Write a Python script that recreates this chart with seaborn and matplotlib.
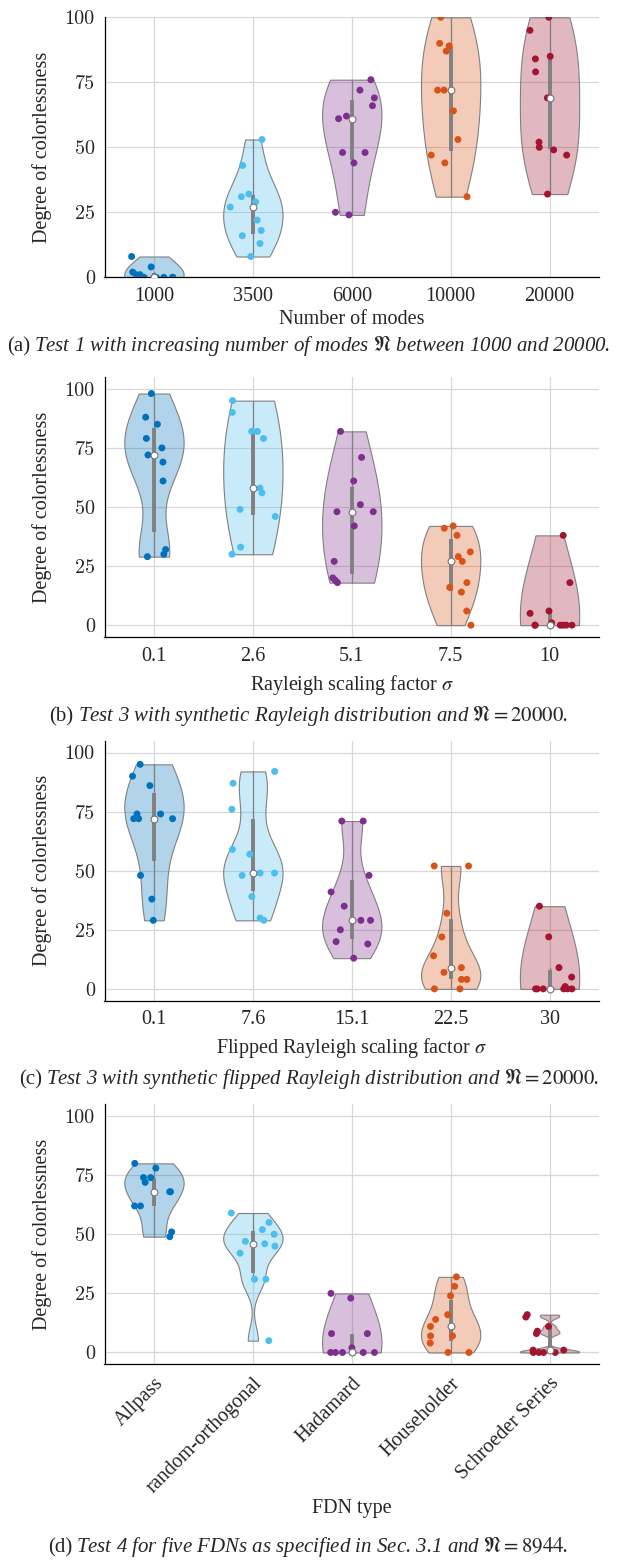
import numpy as np
import pandas as pd
import matplotlib
matplotlib.use('Agg')
import matplotlib.pyplot as plt
import seaborn as sns
from matplotlib import cbook

colors = ['#0072BD', '#4DBEEE', '#7E2F8E', '#D95319', '#A2142F']

# (a) Test 1, number of modes
modes_labels = ['1000', '3500', '6000', '10000', '20000']
modes_vals = [
    [0, 0, 0, 0, 0, 0, 1, 1, 2, 4, 8],
    [8, 13, 16, 18, 22, 27, 29, 31, 32, 43, 53],
    [24, 25, 44, 48, 48, 61, 62, 66, 69, 72, 76],
    [31, 44, 47, 53, 64, 72, 72, 87, 89, 90, 100],
    [32, 47, 49, 50, 52, 69, 79, 84, 85, 95, 100],
]

# (b) Test 3, Rayleigh
rayleigh_labels = ['0.1', '2.6', '5.1', '7.5', '10']
rayleigh_vals = [
    [29, 30, 32, 61, 69, 72, 75, 79, 85, 88, 98],
    [30, 33, 46, 49, 56, 58, 79, 82, 82, 90, 95],
    [18, 19, 20, 27, 42, 48, 48, 51, 61, 71, 82],
    [0, 6, 14, 16, 18, 27, 29, 31, 38, 41, 42],
    [0, 0, 0, 0, 0, 0, 1, 5, 6, 18, 38],
]

# (c) Test 3, flipped Rayleigh
flipped_labels = ['0.1', '7.6', '15.1', '22.5', '30']
flipped_vals = [
    [29, 38, 48, 72, 72, 72, 74, 74, 86, 90, 95],
    [29, 30, 39, 48, 49, 49, 57, 59, 76, 87, 92],
    [13, 19, 20, 25, 29, 29, 35, 41, 48, 71, 71],
    [0, 0, 4, 4, 7, 9, 14, 22, 32, 52, 52],
    [0, 0, 0, 0, 0, 0, 1, 5, 9, 22, 35],
]

# (d) Test 4, FDN types
fdn_labels = ['Allpass', 'random-orthogonal', 'Hadamard', 'Householder', 'Schroeder Series']
fdn_vals = [
    [49, 51, 62, 62, 68, 68, 72, 74, 74, 78, 80],
    [5, 31, 31, 42, 45, 46, 47, 50, 52, 55, 59],
    [0, 0, 0, 0, 0, 0, 2, 8, 8, 23, 25],
    [0, 0, 4, 7, 7, 11, 14, 16, 24, 28, 32],
    [0, 0, 0, 0, 1, 1, 8, 9, 11, 15, 16],
]

sns.set_style('white')
plt.rcParams['font.family'] = ['Liberation Serif', 'DejaVu Serif']
plt.rcParams['mathtext.fontset'] = 'stix'
FS = 14.5
FSC = 15

W, H = 621, 1562


def matlab_bw(v):
    # ksdensity default bandwidth, as a factor of the sample std for seaborn
    v = np.asarray(v, float)
    sig = np.median(np.abs(v - np.median(v))) / 0.6745
    if sig <= 0:
        sig = v.max() - v.min()
    bw = sig * (4 / (3 * len(v))) ** 0.2
    return bw / v.std(ddof=1)


def draw_panel(ax, labels, vals, ylim, xlabel, xlabel_y, rotate=False):
    df = pd.DataFrame({
        'cat': np.repeat(labels, [len(v) for v in vals]),
        'val': np.concatenate(vals),
    })
    for i, v in enumerate(vals):
        sns.violinplot(x=[labels[i]] * len(v), y=v, order=labels,
                       color=colors[i], cut=0, inner=None,
                       density_norm='width', width=0.6, bw_method=matlab_bw(v),
                       linewidth=0.8, linecolor='0.5', saturation=1, ax=ax)
    for coll in ax.collections:
        fc = coll.get_facecolor()
        fc[:, 3] = 0.3
        coll.set_facecolor(fc)
        coll.set_zorder(1)

    # quartile bar, whiskers, median
    for i, v in enumerate(vals):
        q1, med, q3 = np.percentile(v, [25, 50, 75], method='hazen')
        st = cbook.boxplot_stats(v)[0]
        ax.plot([i, i], [st['whislo'], st['whishi']], color='0.5', lw=0.9, zorder=2)
        ax.plot([i, i], [q1, q3], color='0.5', lw=2.8, solid_capstyle='butt', zorder=2)
        ax.scatter([i], [med], s=24, facecolor='white', edgecolor='0.45',
                   linewidth=0.8, zorder=5)

    sns.stripplot(data=df, x='cat', y='val', hue='cat', order=labels,
                  hue_order=labels, palette=colors, legend=False,
                  jitter=0.24, size=5, linewidth=0, ax=ax, zorder=4)

    ax.set_xlim(-0.5, 4.5)
    ax.set_ylim(*ylim)
    ax.set_yticks([0, 25, 50, 75, 100])
    ax.grid(True, color='#d8d8d8', lw=0.9)
    ax.set_axisbelow(True)
    sns.despine(ax=ax)
    for s in ['left', 'bottom']:
        ax.spines[s].set_color('black')
        ax.spines[s].set_linewidth(0.9)
    ax.tick_params(direction='in', length=5, width=0.9, color='0.5',
                   labelsize=FS, pad=7)
    for lab in ax.get_yticklabels():
        lab.set_fontfamily('cmr10')
    if rotate:
        ax.set_xticks(range(len(labels)))
        ax.set_xticklabels(labels, rotation=45, ha='right',
                           rotation_mode='anchor', fontsize=FS)
    ax.set_xlabel(xlabel, fontsize=FS, va='center')
    ax.set_ylabel('Degree of colorlessness', fontsize=FS, va='center')
    ax.xaxis.set_label_coords(0.5, xlabel_y)
    ax.yaxis.set_label_coords(-0.126, 0.5)


fig = plt.figure(figsize=(W / 100, H / 100), dpi=100)
left, width, height = 104.5 / W, 494.5 / W, 260 / H

ax_a = fig.add_axes([left, 1 - 277.3 / H, width, height])
ax_b = fig.add_axes([left, 1 - 637 / H, width, height])
ax_c = fig.add_axes([left, 1 - 1000.7 / H, width, height])
ax_d = fig.add_axes([left, 1 - 1364.3 / H, width, height])

np.random.seed(3)
draw_panel(ax_a, modes_labels, modes_vals, (0, 100), 'Number of modes', -0.164)
draw_panel(ax_b, rayleigh_labels, rayleigh_vals, (-5, 105),
           r'Rayleigh scaling factor $\sigma$', -0.185)
draw_panel(ax_c, flipped_labels, flipped_vals, (-5, 105),
           r'Flipped Rayleigh scaling factor $\sigma$', -0.182)
draw_panel(ax_d, fdn_labels, fdn_vals, (-5, 105), 'FDN type', -0.553, rotate=True)

captions = [
    (351, '(a)', r'Test 1 with increasing number of modes $\mathfrak{N}$ between 1000 and 20000.'),
    (721, '(b)', r'Test 3 with synthetic Rayleigh distribution and $\mathfrak{N} = 20000$.'),
    (1084, '(c)', r'Test 3 with synthetic flipped Rayleigh distribution and $\mathfrak{N} = 20000$.'),
    (1552, '(d)', r'Test 4 for five FDNs as specified in Sec. 3.1 and $\mathfrak{N} = 8944$.'),
]
bodies = []
for y, tag, body in captions:
    t = fig.text(0.5 + 12 / W, 1 - y / H, body, style='italic', ha='center',
                 va='baseline', fontsize=FSC)
    bodies.append((y, tag, t))

fig.canvas.draw()
for y, tag, t in bodies:
    bb = t.get_window_extent()
    fig.text((bb.x0 - 4) / W, 1 - y / H, tag, ha='right', va='baseline', fontsize=FSC)

fig.savefig('out.png', dpi=100)
